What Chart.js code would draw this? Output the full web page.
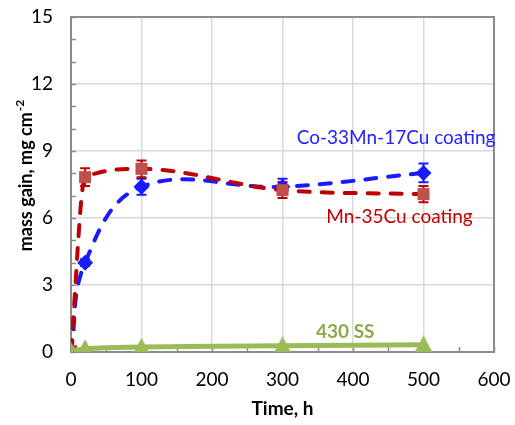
<!DOCTYPE html>
<html lang="en">
<head>
<meta charset="UTF-8" />
<title>Mass gain vs time</title>
<script src="https://cdn.jsdelivr.net/npm/chart.js"></script>
<style>
    html, body { margin: 0; padding: 0; background: #fff; }
    #wrap { width: 515px; height: 425px; position: relative; }
</style>
</head>
<body>
<div id="wrap"><canvas id="chart" width="515" height="425"></canvas></div>
<script>
// data
const times = [0, 20, 100, 300, 500];
const coMnCu = [0, 4.0, 7.4, 7.4, 8.02];
const coMnCuErr = [0, 0.15, 0.36, 0.36, 0.42];
const mnCu = [0.05, 7.83, 8.2, 7.25, 7.07];
const mnCuErr = [0, 0.4, 0.38, 0.36, 0.36];
const ss430 = [0.02, 0.15, 0.22, 0.28, 0.33];
const xTicks = [0, 100, 200, 300, 400, 500, 600];
const yTicks = [0, 3, 6, 9, 12, 15];

const FONT = 'Lato, "Open Sans", sans-serif';
const RED = '#c00000', RED_MK = '#c0504d', BLUE = '#1a1aff', GREEN = '#9bbb59';

// triangle centred on its bounding box, like Excel draws it
function triangleMarker(w, h, color) {
    const c = document.createElement('canvas');
    c.width = w; c.height = h;
    const g = c.getContext('2d');
    g.fillStyle = color;
    g.beginPath();
    g.moveTo(w / 2, 0); g.lineTo(w, h); g.lineTo(0, h); g.closePath();
    g.fill();
    return c;
}

const pts = arr => times.map((t, i) => ({ x: t, y: arr[i] }));

// box, inside tick marks, error bars, labels
const frame = {
    id: 'frame',
    beforeDatasetsDraw(chart) {
        const { ctx, chartArea: a, scales: { x, y } } = chart;
        ctx.save();
        ctx.strokeStyle = '#8c8c8c';
        ctx.lineWidth = 2;
        ctx.strokeRect(a.left, a.top, a.right - a.left, a.bottom - a.top);
        ctx.lineWidth = 1.5;
        ctx.beginPath();
        for (let v = 0; v <= 15; v += 1) {
            const py = Math.round(y.getPixelForValue(v)) + 0.5;
            ctx.moveTo(a.left, py); ctx.lineTo(a.left + 5, py);
        }
        for (let v = 0; v <= 600; v += 50) {
            const px = Math.round(x.getPixelForValue(v)) + 0.5;
            ctx.moveTo(px, a.bottom); ctx.lineTo(px, a.bottom - 5);
        }
        ctx.stroke();

        const bars = [[coMnCu, coMnCuErr, BLUE], [mnCu, mnCuErr, RED]];
        ctx.lineWidth = 2;
        bars.forEach(([vals, errs, col]) => {
            ctx.strokeStyle = col;
            ctx.beginPath();
            times.forEach((t, i) => {
                if (!errs[i]) return;
                const px = x.getPixelForValue(t);
                const y1 = y.getPixelForValue(vals[i] + errs[i]);
                const y2 = y.getPixelForValue(vals[i] - errs[i]);
                ctx.moveTo(px, y1); ctx.lineTo(px, y2);
                ctx.moveTo(px - 5, y1); ctx.lineTo(px + 5, y1);
                ctx.moveTo(px - 5, y2); ctx.lineTo(px + 5, y2);
            });
            ctx.stroke();
        });
        ctx.restore();
    },
    afterDraw(chart) {
        const { ctx, scales: { x, y } } = chart;
        ctx.save();
        ctx.textAlign = 'center';
        ctx.textBaseline = 'middle';
        ctx.font = '19px ' + FONT;
        ctx.fillStyle = '#2222ff';
        ctx.fillText('Co-33Mn-17Cu coating', x.getPixelForValue(461), y.getPixelForValue(9.58));
        ctx.fillStyle = RED;
        ctx.fillText('Mn-35Cu coating', x.getPixelForValue(466), y.getPixelForValue(6.05));
        ctx.font = 'bold 19px ' + FONT;
        ctx.fillStyle = '#8aac4a';
        ctx.fillText('430 SS', x.getPixelForValue(389), y.getPixelForValue(0.9));

        // y title with superscript
        ctx.translate(26, 176);
        ctx.rotate(-Math.PI / 2);
        ctx.fillStyle = '#000';
        ctx.textAlign = 'left';
        ctx.textBaseline = 'middle';
        const main = 'mass gain, mg cm';
        ctx.font = 'bold 18px ' + FONT;
        const w1 = ctx.measureText(main).width;
        ctx.font = 'bold 12px ' + FONT;
        const w2 = ctx.measureText('-2').width;
        const start = -(w1 + w2) / 2;
        ctx.font = 'bold 18px ' + FONT;
        ctx.fillText(main, start, 0);
        ctx.font = 'bold 12px ' + FONT;
        ctx.fillText('-2', start + w1 + 1, -6);
        ctx.restore();
    }
};

new Chart(document.getElementById('chart'), {
    type: 'line',
    data: {
        datasets: [
            {
                label: '430 SS',
                data: pts(ss430),
                borderColor: GREEN,
                backgroundColor: GREEN,
                borderWidth: 5,
                tension: 0.4,
                pointStyle: triangleMarker(20, 19, GREEN),
                order: 0
            },
            {
                label: 'Mn-35Cu coating',
                data: pts(mnCu),
                borderColor: RED,
                backgroundColor: RED_MK,
                borderWidth: 4,
                borderDash: [11, 12],
                borderCapStyle: 'round',
                cubicInterpolationMode: 'monotone',
                pointStyle: 'rect',
                pointRadius: 8.5,
                pointBorderWidth: 0,
                order: 1
            },
            {
                label: 'Co-33Mn-17Cu coating',
                data: pts(coMnCu),
                borderColor: BLUE,
                backgroundColor: BLUE,
                borderWidth: 4,
                borderDash: [11, 12],
                borderCapStyle: 'round',
                tension: 0.4,
                pointStyle: 'rectRot',
                pointRadius: 8,
                pointBorderWidth: 0,
                order: 2
            }
        ]
    },
    options: {
        responsive: false,
        animation: false,
        devicePixelRatio: 1,
        layout: { autoPadding: false, padding: { top: 17, right: 21, left: 0, bottom: 0 } },
        plugins: { legend: { display: false }, tooltip: { enabled: false } },
        scales: {
            x: {
                type: 'linear',
                min: 0, max: 600,
                afterBuildTicks: s => { s.ticks = xTicks.map(v => ({ value: v })); },
                afterFit: s => { s.height = 73; s.paddingLeft = 0; s.paddingRight = 0; },
                grid: { color: '#d9d9d9', lineWidth: 1.5, drawTicks: false },
                border: { display: false },
                ticks: { color: '#000', font: { family: FONT, size: 19 }, padding: 16, maxRotation: 0 },
                title: {
                    display: true, text: 'Time, h', color: '#000',
                    font: { family: FONT, size: 19, weight: 'bold' },
                    padding: { top: 0, bottom: 5 }
                }
            },
            y: {
                min: 0, max: 15,
                afterBuildTicks: s => { s.ticks = yTicks.map(v => ({ value: v })); },
                afterFit: s => { s.width = 71; s.paddingTop = 0; s.paddingBottom = 0; },
                grid: { color: '#d9d9d9', lineWidth: 1.5, drawTicks: false },
                border: { display: false },
                ticks: { color: '#000', font: { family: FONT, size: 19 }, padding: 18 }
            }
        }
    },
    plugins: [frame]
});
</script>
</body>
</html>
